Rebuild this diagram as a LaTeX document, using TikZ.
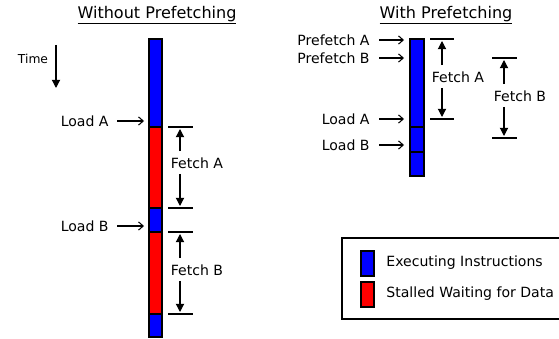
\documentclass[tikz,border=0pt]{standalone}
\usepackage{fontspec}
\setmainfont{DejaVu Sans}
\usetikzlibrary{arrows.meta}
\usetikzlibrary{calc}

\tikzset{
  exec/.style={draw=black, line width=1.3pt, fill=blue},
  stall/.style={draw=black, line width=1.3pt, fill=red},
  lbl/.style={font=\fontsize{12}{14}\selectfont, inner sep=1pt},
  ttl/.style={font=\fontsize{13.7}{16}\selectfont, inner sep=1pt},
  ptr/.style={-{Straight Barb[length=4pt,width=7pt]}, line width=0.9pt},
  dim/.style={-{Triangle[length=7pt,width=7pt]}, line width=1pt},
  tick/.style={line width=1.4pt},
}

\begin{document}
\begin{tikzpicture}[x=0.03cm, y=-0.03cm]
        \useasboundingbox (0,0) rectangle (559,339);
        \clip (0,0) rectangle (559,339);

        %Titles
        \node[ttl] (without) at (157,15) {\underline{Without Prefetching}};
        \node[ttl] (with) at (446,15) {\underline{With Prefetching}};

        %Time
        \node[lbl, font=\fontsize{10.5}{12}\selectfont] (time) at (33,59) {Time};
        \coordinate (timetop) at (56,45);
        \coordinate (timebot) at (56,88);
        \draw[dim] (timetop) -- (timebot);

        %Left bar
        \draw[exec]  (149,39)  rectangle (162,127);
        \draw[stall] (149,127) rectangle (162,208);
        \draw[exec]  (149,208) rectangle (162,232);
        \draw[stall] (149,232) rectangle (162,314);
        \draw[exec]  (149,314) rectangle (162,337);

        %Left loads
        \node[lbl, anchor=east] (loadA) at (110,121) {Load A};
        \node[lbl, anchor=east] (loadB) at (110,226) {Load B};
        \coordinate (inA) at (144,121);
        \coordinate (inB) at (144,226);
        \draw[ptr] ($(loadA.east)+(7,0)$) -- (inA);
        \draw[ptr] ($(loadB.east)+(7,0)$) -- (inB);

        %Left fetches
        \coordinate (fAtop) at (180,127);
        \coordinate (fAbot) at (180,208);
        \coordinate (fBtop) at (180,232);
        \coordinate (fBbot) at (180,314);
        \draw[tick] (168,127) -- (193,127);
        \draw[tick] (168,208) -- (193,208);
        \draw[tick] (168,232) -- (193,232);
        \draw[tick] (168,314) -- (193,314);
        \node[lbl] (fetchA) at (197,163) {Fetch A};
        \node[lbl] (fetchB) at (197,270) {Fetch B};
        \draw[dim] ($(fetchA.north -| fAtop)+(0,-5)$) -- ($(fAtop)+(0,2)$);
        \draw[dim] ($(fetchA.south -| fAbot)+(0,4)$) -- ($(fAbot)+(0,-2)$);
        \draw[dim] ($(fetchB.north -| fBtop)+(0,-5)$) -- ($(fBtop)+(0,2)$);
        \draw[dim] ($(fetchB.south -| fBbot)+(0,4)$) -- ($(fBbot)+(0,-2)$);

        %Right bar
        \draw[exec] (410,39)  rectangle (424,127);
        \draw[exec] (410,127) rectangle (424,152);
        \draw[exec] (410,152) rectangle (424,176);

        %Right labels
        \node[lbl, anchor=east] (preA) at (371,40) {Prefetch A};
        \node[lbl, anchor=east] (preB) at (371,58) {Prefetch B};
        \node[lbl, anchor=east] (ldA) at (371,119) {Load A};
        \node[lbl, anchor=east] (ldB) at (371,145) {Load B};
        \coordinate (inpA) at (404,40);
        \coordinate (inpB) at (404,58);
        \coordinate (inlA) at (404,119);
        \coordinate (inlB) at (404,145);
        \draw[ptr] ($(preA.east)+(8,0)$) -- (inpA);
        \draw[ptr] ($(preB.east)+(8,0)$) -- (inpB);
        \draw[ptr] ($(ldA.east)+(8,0)$) -- (inlA);
        \draw[ptr] ($(ldB.east)+(8,0)$) -- (inlB);

        %Right fetches
        \coordinate (gAtop) at (442,39);
        \coordinate (gAbot) at (442,119);
        \coordinate (gBtop) at (504,58);
        \coordinate (gBbot) at (504,138);
        \draw[tick] (430,39) -- (454,39);
        \draw[tick] (430,119) -- (454,119);
        \draw[tick] (492,58) -- (517,58);
        \draw[tick] (492,138) -- (517,138);
        \node[lbl] (fetchRA) at (458,77) {Fetch A};
        \node[lbl] (fetchRB) at (520,96) {Fetch B};
        \draw[dim] ($(fetchRA.north -| gAtop)+(0,-5)$) -- ($(gAtop)+(0,2)$);
        \draw[dim] ($(fetchRA.south -| gAbot)+(0,4)$) -- ($(gAbot)+(0,-2)$);
        \draw[dim] ($(fetchRB.north -| gBtop)+(0,-5)$) -- ($(gBtop)+(0,2)$);
        \draw[dim] ($(fetchRB.south -| gBbot)+(0,4)$) -- ($(gBbot)+(0,-2)$);

        %Legend
        \draw[line width=1.2pt] (342,238) rectangle (566,319);
        \draw[exec]  (361,251) rectangle (374,276);
        \draw[stall] (361,282) rectangle (374,307);
        \node[lbl, anchor=west] (keyexec) at (385,263) {Executing Instructions};
        \node[lbl, anchor=west] (keystall) at (385,294) {Stalled Waiting for Data};

    \end{tikzpicture}
\end{document}
